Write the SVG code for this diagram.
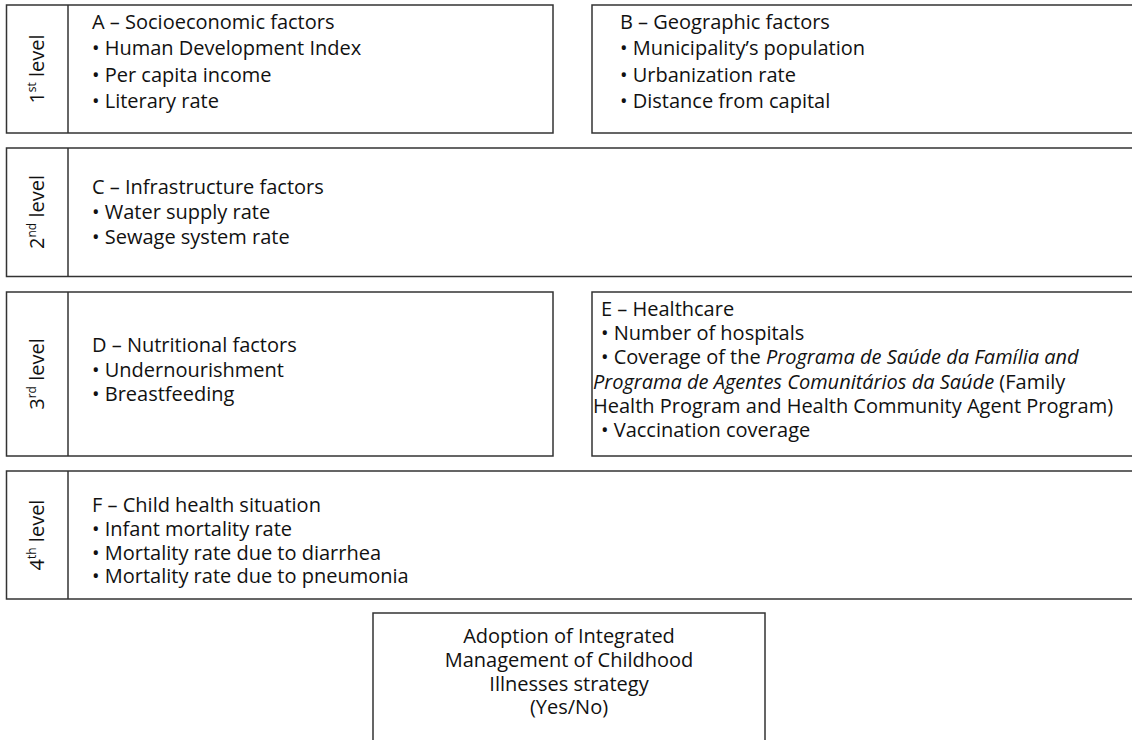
<svg xmlns="http://www.w3.org/2000/svg" width="1132" height="740" viewBox="0 0 1132 740">
<style>
.box{fill:#fff;stroke:#333;stroke-width:1.5}
.div{stroke:#333;stroke-width:1.5}
text{font-family:"Open Sans","Liberation Sans",sans-serif;font-size:20px;fill:#111}
.lvl{text-anchor:middle}
.c{text-anchor:middle}
</style>
<rect width="1132" height="740" fill="#fff"/>
<g id="level1">
<rect class="box" x="6.5" y="5" width="546.5" height="128"/>
<line class="div" x1="68" y1="5" x2="68" y2="133"/>
<text class="lvl" transform="translate(44,69) rotate(-90)">1<tspan font-size="12" dy="-8">st</tspan><tspan dy="8"> level</tspan></text>
</g>
<g id="nodeA">
<text x="92" y="29">A – Socioeconomic factors</text>
<text x="92" y="55">• Human Development Index</text>
<text x="92" y="82">• Per capita income</text>
<text x="92" y="108">• Literary rate</text>
</g>
<g id="nodeB">
<rect class="box" x="592" y="5" width="560" height="128"/>
<text x="620" y="29">B – Geographic factors</text>
<text x="620" y="55">• Municipality’s population</text>
<text x="620" y="82">• Urbanization rate</text>
<text x="620" y="108">• Distance from capital</text>
</g>
<g id="level2">
<rect class="box" x="6.5" y="148" width="1140" height="128.5"/>
<line class="div" x1="68" y1="148" x2="68" y2="276.5"/>
<text class="lvl" transform="translate(44,212) rotate(-90)">2<tspan font-size="12" dy="-8">nd</tspan><tspan dy="8"> level</tspan></text>
</g>
<g id="nodeC">
<text x="92" y="194">C – Infrastructure factors</text>
<text x="92" y="219">• Water supply rate</text>
<text x="92" y="244">• Sewage system rate</text>
</g>
<g id="level3">
<rect class="box" x="6.5" y="292" width="546.5" height="164"/>
<line class="div" x1="68" y1="292" x2="68" y2="456"/>
<text class="lvl" transform="translate(44,374) rotate(-90)">3<tspan font-size="12" dy="-8">rd</tspan><tspan dy="8"> level</tspan></text>
</g>
<g id="nodeD">
<text x="92" y="352">D – Nutritional factors</text>
<text x="92" y="377">• Undernourishment</text>
<text x="92" y="401">• Breastfeeding</text>
</g>
<g id="nodeE">
<rect class="box" x="592" y="292" width="560" height="164"/>
<text x="601" y="316">E – Healthcare</text>
<text x="601" y="340">• Number of hospitals</text>
<text x="601" y="364">• Coverage of the <tspan font-style="italic">Programa de Saúde da Família and</tspan></text>
<text x="593" y="389"><tspan font-style="italic">Programa de Agentes Comunitários da Saúde</tspan> (Family</text>
<text x="593" y="413">Health Program and Health Community Agent Program)</text>
<text x="601" y="437">• Vaccination coverage</text>
</g>
<g id="level4">
<rect class="box" x="6.5" y="471" width="1140" height="128"/>
<line class="div" x1="68" y1="471" x2="68" y2="599"/>
<text class="lvl" transform="translate(44,535) rotate(-90)">4<tspan font-size="12" dy="-8">th</tspan><tspan dy="8"> level</tspan></text>
</g>
<g id="nodeF">
<text x="92" y="512">F – Child health situation</text>
<text x="92" y="536">• Infant mortality rate</text>
<text x="92" y="560">• Mortality rate due to diarrhea</text>
<text x="92" y="583">• Mortality rate due to pneumonia</text>
</g>
<g id="nodeOutcome">
<rect class="box" x="373" y="613" width="392" height="140"/>
<text class="c" x="569" y="643">Adoption of Integrated</text>
<text class="c" x="569" y="667">Management of Childhood</text>
<text class="c" x="569" y="691">Illnesses strategy</text>
<text class="c" x="569" y="714">(Yes/No)</text>
</g>
<g id="connectors"></g>
</svg>
